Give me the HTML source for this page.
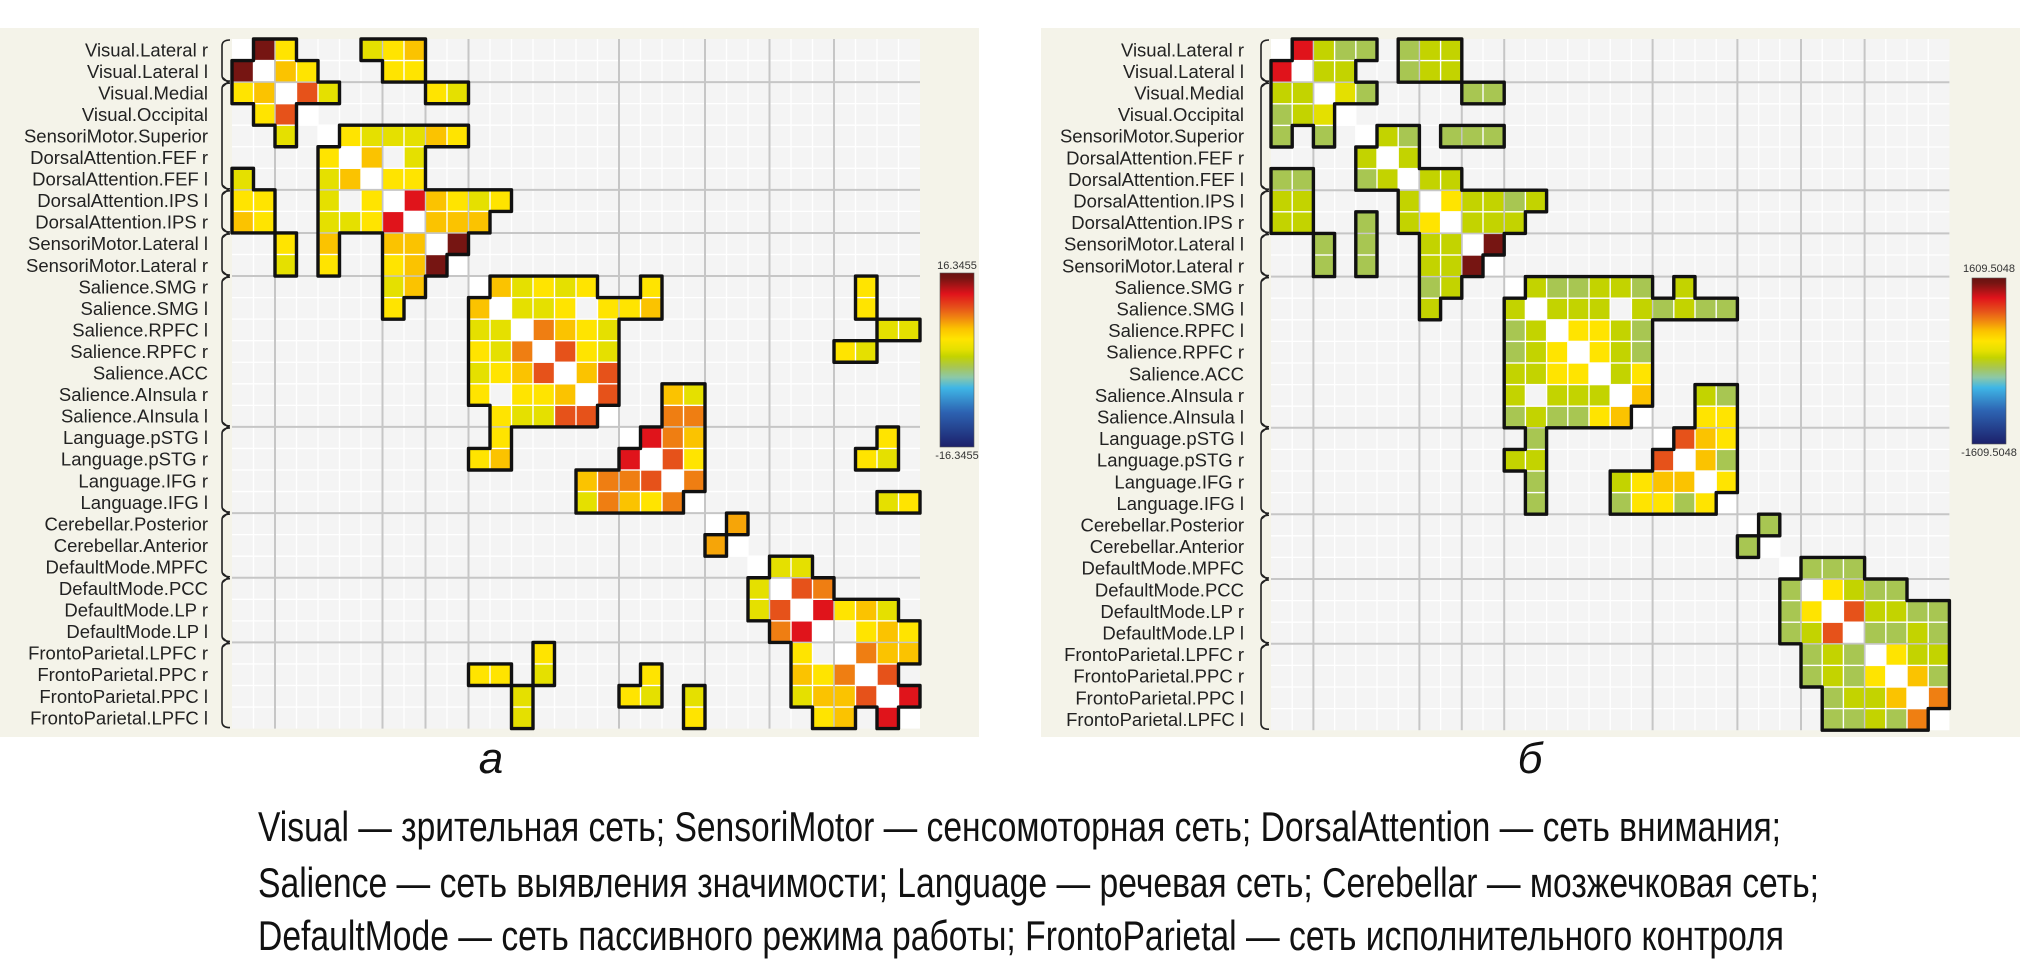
<!DOCTYPE html>
<html><head><meta charset="utf-8"><style>
html,body{margin:0;padding:0;background:#fff;}
svg{display:block;}
</style></head><body>
<svg id="fig" xmlns="http://www.w3.org/2000/svg" width="2020" height="966" viewBox="0 0 2020 966">
<defs>
<linearGradient id="cbar" x1="0" y1="0" x2="0" y2="1">
<stop offset="0" stop-color="#6a1010"/><stop offset="0.03" stop-color="#761512"/><stop offset="0.12" stop-color="#e0131b"/><stop offset="0.2" stop-color="#e6521a"/><stop offset="0.25" stop-color="#ef7f12"/><stop offset="0.32" stop-color="#fbc300"/><stop offset="0.38" stop-color="#ffe400"/><stop offset="0.44" stop-color="#e4e000"/><stop offset="0.48" stop-color="#c3d300"/><stop offset="0.54" stop-color="#a8c652"/><stop offset="0.6" stop-color="#8cc8a8"/><stop offset="0.66" stop-color="#3fb6e6"/><stop offset="0.8" stop-color="#2d63b2"/><stop offset="1" stop-color="#1c206a"/>
</linearGradient>
</defs>
<rect x="0" y="28" width="979" height="709" fill="#f4f3e9"/>
<rect x="1041" y="28" width="979" height="709" fill="#f4f3e9"/>
<g id="panelA"></g>
<g id="panelB"></g>
<g>
<rect x="940" y="273" width="34" height="174" fill="url(#cbar)" stroke="#555" stroke-width="0.6"/>
<text x="957" y="269" font-family="Liberation Sans, sans-serif" font-size="11" fill="#333" text-anchor="middle">16.3455</text>
<text x="957" y="459" font-family="Liberation Sans, sans-serif" font-size="11" fill="#333" text-anchor="middle">-16.3455</text>
</g>
<g>
<rect x="1972" y="278" width="34" height="166" fill="url(#cbar)" stroke="#555" stroke-width="0.6"/>
<text x="1989" y="272" font-family="Liberation Sans, sans-serif" font-size="11" fill="#333" text-anchor="middle">1609.5048</text>
<text x="1989" y="456" font-family="Liberation Sans, sans-serif" font-size="11" fill="#333" text-anchor="middle">-1609.5048</text>
</g>
<text x="491" y="773" font-family="Liberation Sans Narrow, Liberation Sans, sans-serif" font-style="italic" font-size="44" fill="#111" text-anchor="middle">а</text>
<text x="1530" y="773" font-family="Liberation Sans Narrow, Liberation Sans, sans-serif" font-style="italic" font-size="44" fill="#111" text-anchor="middle">б</text>
<g font-family="Liberation Sans Narrow, Liberation Sans, sans-serif" font-size="42" fill="#111">
<text x="258" y="841" textLength="1523" lengthAdjust="spacingAndGlyphs">Visual — зрительная сеть; SensoriMotor — сенсомоторная сеть; DorsalAttention — сеть внимания;</text>
<text x="258" y="897" textLength="1561" lengthAdjust="spacingAndGlyphs">Salience — сеть выявления значимости; Language — речевая сеть; Cerebellar — мозжечковая сеть;</text>
<text x="258" y="950" textLength="1526" lengthAdjust="spacingAndGlyphs">DefaultMode — сеть пассивного режима работы; FrontoParietal — сеть исполнительного контроля</text>
</g>
</svg>
<script>
const regionLabels = ["Visual.Lateral r","Visual.Lateral l","Visual.Medial","Visual.Occipital","SensoriMotor.Superior","DorsalAttention.FEF r","DorsalAttention.FEF l","DorsalAttention.IPS l","DorsalAttention.IPS r","SensoriMotor.Lateral l","SensoriMotor.Lateral r","Salience.SMG r","Salience.SMG l","Salience.RPFC l","Salience.RPFC r","Salience.ACC","Salience.AInsula r","Salience.AInsula l","Language.pSTG l","Language.pSTG r","Language.IFG r","Language.IFG l","Cerebellar.Posterior","Cerebellar.Anterior","DefaultMode.MPFC","DefaultMode.PCC","DefaultMode.LP r","DefaultMode.LP l","FrontoParietal.LPFC r","FrontoParietal.PPC r","FrontoParietal.PPC l","FrontoParietal.LPFC l"];
const groupBreaks = [2,7,9,11,18,22,25,28];

const leftRow = [0,0,0,0,0, 1,1,1,1, 2,2,2,2, 4,4,4,4,4,4, 5,5, 6,6, 7,7,7,7,7, 8,8,8, 9, 11,11,11,11,11,11,11, 12,12,12,12,12,12,12, 13,13,13,13,13,13, 14,14,14,14,14, 15,15, 16,16,16, 17,17, 18,18,18,18, 19,19,19,19, 20, 21,21, 22, 24,24, 25,25, 26,26,26,26, 27,27,27, 28,28,28, 29, 30];
const leftCol = [1,2,6,7,8, 2,3,7,8, 3,4,9,10, 5,6,7,8,9,10, 6,8, 7,8, 8,9,10,11,12, 9,10,11, 10, 12,13,14,15,16,19,29, 13,14,15,17,18,19,29, 14,15,16,17,30,31, 15,16,17,28,29, 16,17, 17,20,21, 20,21, 19,20,21,30, 20,21,29,30, 21, 30,31, 23, 25,26, 26,27, 27,28,29,30, 29,30,31, 29,30,31, 30, 31];
const leftVal = [15.4,3.9,2.0,3.9,5.9, 5.9,3.9,3.9,3.9, 9.8,2.0,3.9,2.0, 3.9,2.0,2.0,2.0,5.9,3.9, 5.9,2.0, 3.9,3.9, 12.4,5.9,3.9,2.0,3.9, 5.9,5.9,5.9, 15.4, 5.9,2.0,3.9,2.0,3.9,3.9,3.9, 2.0,2.0,3.9,3.9,3.9,5.9,3.9, 8.2,5.9,3.9,2.0,2.0,2.0, 9.8,3.9,2.0,3.9,2.0, 5.9,9.8, 9.8,5.9,2.0, 8.2,8.2, 12.4,8.2,5.9,3.9, 9.8,3.9,3.9,2.0, 8.2, 2.0,3.9, 6.9, 2.0,2.0, 9.8,8.2, 12.4,3.9,5.9,2.0, 3.9,5.9,3.9, 8.2,5.9,5.9, 9.8, 12.4];
const leftBlankRow = [1,2,5,6,7,8,9,12,13,14,15,16,19,20,25,26,27,28,29,30, 5,12,27];
const leftBlankCol = [1,2,5,6,7,8,9,12,13,14,15,16,19,20,25,26,27,28,29,30, 7,16,28];

const rightRow = [0,0,0,0,0,0,0, 1,1,1,1,1, 2,2,2,2, 4,4,4,4,4, 5, 6,6, 7,7,7,7,7, 8,8,8, 9, 11,11,11,11,11,11,11, 12,12,12,12,12,12,12,12, 13,13,13,13, 14,14,14, 15,15, 16,16,16, 17,17, 18,18,18, 19,19, 20, 22, 24,24,24, 25,25,25,25, 26,26,26,26,26, 27,27,27,27, 28,28,28, 29,29, 30];
const rightCol = [1,2,3,4,6,7,8, 2,3,6,7,8, 3,4,9,10, 5,6,8,9,10, 6, 7,8, 8,9,10,11,12, 9,10,11, 10, 12,13,14,15,16,17,19, 13,14,15,17,18,19,20,21, 14,15,16,17, 15,16,17, 16,17, 17,20,21, 20,21, 19,20,21, 20,21, 21, 23, 25,26,27, 26,27,28,29, 27,28,29,30,31, 28,29,30,31, 29,30,31, 30,31, 31];
const rightVal = [1223,64,-129,-129,-129,64,64, 64,64,-129,64,64, 193,-129,-129,-129, 64,-129,-129,-129,-129, 64, 64,64, 386,64,64,-129,64, 64,64,64, 1513, 64,-129,-129,64,64,-129,64, 64,64,64,64,-129,64,-129,-129, 386,386,64,-129, 386,64,-129, 64,386, 579,64,-129, 386,386, 966,579,386, 579,-129, 386, -129, -129,-129,-129, 386,64,-129,-129, 966,64,64,-129,-129, -129,-129,64,-129, 386,64,64, 579,-129, 805];
const rightBlankRow = [1,2,5,6,7,8,9,12,13,14,15,16,19,20,25,26,27,28,29,30, 12];
const rightBlankCol = [1,2,5,6,7,8,9,12,13,14,15,16,19,20,25,26,27,28,29,30, 16];

const stops = [[0,[106,16,16]],[0.03,[118,21,18]],[0.12,[224,19,27]],[0.2,[230,82,26]],[0.25,[239,127,18]],[0.32,[251,195,0]],[0.38,[255,228,0]],[0.44,[228,224,0]],[0.48,[195,211,0]],[0.54,[168,198,82]],[0.6,[140,200,168]],[0.66,[63,182,230]],[0.8,[45,99,178]],[1,[28,32,106]]];
function colorFor(v, max){
  let t = (1 - v/max)/2; t = Math.max(0, Math.min(1, t));
  for (let k=1;k<stops.length;k++){
    if (t <= stops[k][0]){
      const a=stops[k-1], b=stops[k]; const f=(t-a[0])/(b[0]-a[0]);
      const c=a[1].map((x,i)=>Math.round(x+(b[1][i]-x)*f));
      return 'rgb('+c.join(',')+')';
    }
  }
  return 'rgb(28,32,106)';
}
const NS='http://www.w3.org/2000/svg';
function mk(tag, attrs, parent){const e=document.createElementNS(NS,tag);for(const k in attrs)e.setAttribute(k,attrs[k]);parent.appendChild(e);return e;}

function drawPanel(g, opt, rows, cols, vals, bRows, bCols, max, prefix){
  const {gx, gy, cw, ch, lx, bx} = opt;
  const N = regionLabels.length;
  const xs = c => gx + c*cw, ys = r => gy + r*ch;
  const bg = mk('rect',{x:gx,y:gy,width:N*cw,height:N*ch,fill:'#f4f4f4'},g);
  
  
  for (let d=0; d<N; d++) mk('rect',{x:xs(d),y:ys(d),width:cw,height:ch,fill:'#fff'},g);
  for (let k=1;k<N;k++){
    mk('line',{x1:xs(k),y1:gy,x2:xs(k),y2:ys(N),stroke:'#fff','stroke-width':1.3},g);
    mk('line',{x1:gx,y1:ys(k),x2:xs(N),y2:ys(k),stroke:'#fff','stroke-width':1.3},g);
  }
  groupBreaks.forEach(b=>{
    mk('line',{x1:xs(b),y1:gy,x2:xs(b),y2:ys(N),stroke:'#c6c6c6','stroke-width':2},g);
    mk('line',{x1:gx,y1:ys(b),x2:xs(N),y2:ys(b),stroke:'#c6c6c6','stroke-width':2},g);
  });
  regionLabels.forEach((lab,i)=>{
    const t = mk('text',{x:lx,y:ys(i)+ch/2+6.5,'font-family':'Liberation Sans, sans-serif','font-size':18.5,fill:'#222','text-anchor':'end'},g);
    t.textContent = lab;
    
    
  });
  const bounds=[0].concat(groupBreaks,[N]);
  let bp='';
  for (let k=0;k<bounds.length-1;k++){
    const y1=ys(bounds[k])+1, y2=ys(bounds[k+1])-1;
    bp+=`M${bx+8},${y1} Q${bx},${y1} ${bx},${y1+6} L${bx},${y2-6} Q${bx},${y2} ${bx+8},${y2} `;
  }
  for (let k=1;k<bounds.length-1;k++){const y=ys(bounds[k]); bp+=`M${bx},${y-5} L${bx+6},${y} L${bx},${y+5} `;}
  const br = mk('path',{d:bp,fill:'none',stroke:'#222','stroke-width':1.6},g);
  
  
  const inSet = new Set();
  const n = Math.min(rows.length, cols.length, vals.length);
  for (let k=0;k<n;k++){
    const pairs = [[rows[k],cols[k]],[cols[k],rows[k]]];
    pairs.forEach(([r,c])=>{
      inSet.add(r+','+c);
      const cell = mk('rect',{x:xs(c)+0.7,y:ys(r)+0.7,width:cw-1.4,height:ch-1.4,fill:colorFor(vals[k],max)},g);
      
      
    });
  }
  for (let k=0;k<Math.min(bRows.length,bCols.length);k++){
    inSet.add(bRows[k]+','+bCols[k]); inSet.add(bCols[k]+','+bRows[k]);
  }
  let d='';
  inSet.forEach(key=>{
    const [r,c]=key.split(',').map(Number);
    const x0=xs(c), x1=xs(c+1), y0=ys(r), y1=ys(r+1);
    if(!inSet.has((r-1)+','+c)) d+=`M${x0},${y0}L${x1},${y0}`;
    if(!inSet.has((r+1)+','+c)) d+=`M${x0},${y1}L${x1},${y1}`;
    if(!inSet.has(r+','+(c-1))) d+=`M${x0},${y0}L${x0},${y1}`;
    if(!inSet.has(r+','+(c+1))) d+=`M${x1},${y0}L${x1},${y1}`;
  });
  const ol = mk('path',{d:d,fill:'none',stroke:'#111','stroke-width':3.4,'stroke-linecap':'round'},g);
  
  
}
drawPanel(document.getElementById('panelA'), {gx:232, gy:39, cw:21.5, ch:21.55, lx:208, bx:222}, leftRow, leftCol, leftVal, leftBlankRow, leftBlankCol, 16.3455, 'panel-a');
drawPanel(document.getElementById('panelB'), {gx:1271, gy:39, cw:21.2, ch:21.6, lx:1244, bx:1261}, rightRow, rightCol, rightVal, rightBlankRow, rightBlankCol, 1609.5048, 'panel-b');
</script>
</body></html>
